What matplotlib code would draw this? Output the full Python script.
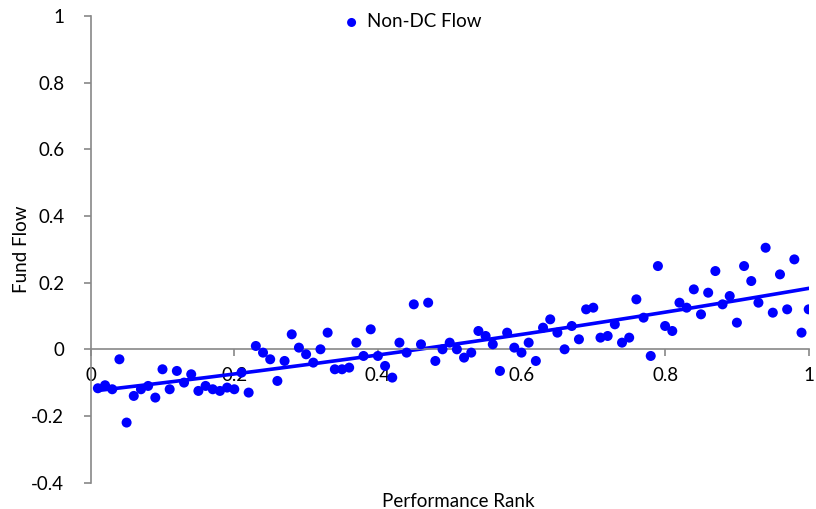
import numpy as np
import matplotlib
matplotlib.use("Agg")
import matplotlib.pyplot as plt

plt.rcParams['font.family'] = ['Lato', 'DejaVu Sans']
plt.rcParams['axes.unicode_minus'] = False

rank = [round(0.01 * i, 2) for i in range(1, 101)]
flow = [-0.117, -0.108, -0.12, -0.03, -0.22, -0.14, -0.12, -0.11, -0.145, -0.06,
        -0.12, -0.065, -0.10, -0.075, -0.125, -0.11, -0.12, -0.125, -0.115, -0.12,
        -0.07, -0.13, 0.01, -0.01, -0.03, -0.095, -0.035, 0.045, 0.005, -0.015,
        -0.04, 0.0, 0.05, -0.06, -0.06, -0.055, 0.02, -0.02, 0.06, -0.02,
        -0.05, -0.085, 0.02, -0.01, 0.135, 0.015, 0.14, -0.035, 0.0, 0.02,
        0.0, -0.025, -0.01, 0.055, 0.04, 0.015, -0.065, 0.05, 0.005, -0.01,
        0.02, -0.035, 0.065, 0.09, 0.05, 0.0, 0.07, 0.03, 0.12, 0.125,
        0.035, 0.04, 0.075, 0.02, 0.035, 0.15, 0.095, -0.02, 0.25, 0.07,
        0.055, 0.14, 0.125, 0.18, 0.105, 0.17, 0.235, 0.135, 0.16, 0.08,
        0.25, 0.205, 0.14, 0.305, 0.11, 0.225, 0.12, 0.27, 0.05, 0.12]

xticks = [0, 0.2, 0.4, 0.6, 0.8, 1.0]
xticklabels = ['0', '0.2', '0.4', '0.6', '0.8', '1']
yticks = [-0.4, -0.2, 0, 0.2, 0.4, 0.6, 0.8, 1.0]
yticklabels = ['-0.4', '-0.2', '0', '0.2', '0.4', '0.6', '0.8', '1']

fig = plt.figure(figsize=(8.16, 5.09), dpi=100)
ax = fig.add_axes([90.7 / 816, 1 - 482.5 / 509, 718 / 816, 466.2 / 509])

blue = '#0000FF'
ax.scatter(rank, flow, s=52, color=blue, edgecolors='none', label='Non-DC Flow', zorder=3)

coef = np.polyfit(rank, flow, 2)
xs = np.linspace(min(rank), max(rank), 200)
ax.plot(xs, np.polyval(coef, xs), color=blue, lw=2.6, zorder=2)

ax.set_xlim(0, 1)
ax.set_ylim(-0.4, 1)
ax.set_xticks(xticks)
ax.set_xticklabels(xticklabels)
ax.set_yticks(yticks)
ax.set_yticklabels(yticklabels)

fs = 13.5
gray = '#888888'
for s in ['top', 'right']:
    ax.spines[s].set_visible(False)
ax.spines['bottom'].set_position(('data', 0))
ax.spines['bottom'].set_color(gray)
ax.spines['left'].set_color(gray)
ax.spines['bottom'].set_linewidth(1.2)
ax.spines['left'].set_linewidth(1.2)
ax.tick_params(axis='both', colors=gray, labelcolor='black', labelsize=fs, length=5, width=1.2, direction='out')
ax.tick_params(axis='y', pad=14)
ax.tick_params(axis='x', pad=8)

ax.set_ylabel('Fund Flow', fontsize=fs)
ax.set_xlabel('Performance Rank', fontsize=fs)
ax.xaxis.set_label_coords(0.512, -0.022)
ax.yaxis.set_label_coords(-0.085, 0.5)

leg = ax.legend(loc='center', bbox_to_anchor=(0.447, 0.988), frameon=False, fontsize=fs,
                handlelength=1.0, handletextpad=0.3, markerscale=0.9, borderaxespad=0)

fig.savefig('out.png', dpi=100)
